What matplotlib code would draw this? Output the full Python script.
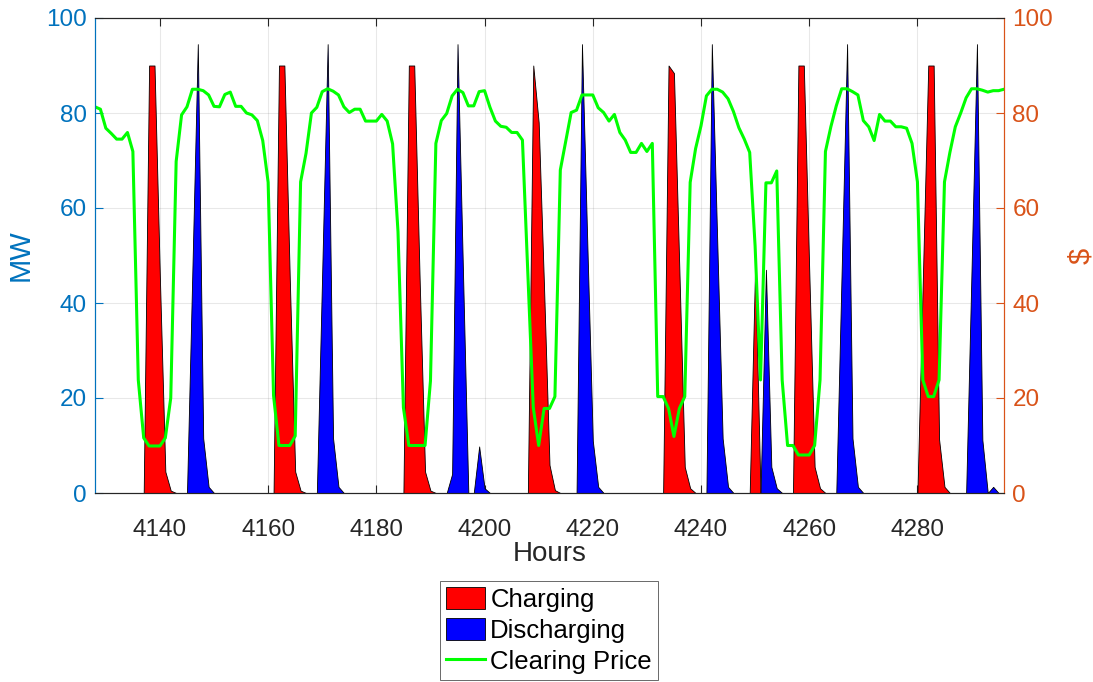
import numpy as np
import matplotlib
matplotlib.use("Agg")
import matplotlib.pyplot as plt
from matplotlib.patches import Patch
from matplotlib.lines import Line2D

plt.rcParams['font.family'] = ['Liberation Sans', 'DejaVu Sans']

# ---- data -----------------------------------------------------------
hour_start = 4128
hour_end = 4296

clearing_price = [
    81.3, 80.8, 76.8, 75.7, 74.5, 74.5, 75.9, 71.9, 23.8, 11.6,   # 4128-4137
    9.9, 9.9, 9.9, 11.6, 20.0, 69.8, 79.6, 81.3, 85.0, 85.0,      # 4138-4147
    84.7, 83.8, 81.4, 81.3, 83.9, 84.4, 81.4, 81.4, 80.0, 79.6,   # 4148-4157
    78.4, 74.2, 65.4, 20.5, 10.0, 10.0, 10.0, 12.0, 65.5, 71.5,   # 4158-4167
    80.0, 81.2, 84.5, 85.1, 84.6, 83.8, 81.3, 80.1, 80.8, 80.8,   # 4168-4177
    78.3, 78.3, 78.3, 79.7, 78.3, 73.5, 55.0, 18.0, 10.0, 10.0,   # 4178-4187
    10.0, 10.0, 23.6, 73.6, 78.4, 79.9, 83.6, 85.0, 84.3, 81.5,   # 4188-4197
    81.5, 84.5, 84.7, 81.2, 78.3, 77.2, 77.0, 75.9, 75.9, 74.3,   # 4198-4207
    46.0, 18.0, 10.0, 17.8, 17.8, 20.3, 68.0, 74.0, 80.1, 80.6,   # 4208-4217
    83.8, 83.8, 83.8, 81.1, 80.1, 78.3, 79.7, 75.9, 74.3, 71.7,   # 4218-4227
    71.7, 73.6, 71.9, 73.6, 20.3, 20.3, 17.8, 11.9, 17.8, 20.3,   # 4228-4237
    65.4, 72.5, 77.3, 83.6, 85.0, 85.0, 84.4, 83.0, 80.3, 76.9,   # 4238-4247
    74.5, 71.7, 52.0, 23.8, 65.3, 65.3, 67.8, 23.8, 10.0, 10.0,   # 4248-4257
    8.0, 8.0, 8.0, 10.0, 23.8, 71.9, 77.1, 81.5, 85.1, 85.1,      # 4258-4267
    84.5, 83.8, 78.4, 77.1, 74.2, 79.7, 78.3, 78.3, 77.1, 77.1,   # 4268-4277
    76.8, 73.6, 65.5, 23.8, 20.3, 20.3, 23.8, 65.5, 71.7, 77.1,   # 4278-4287
    80.0, 83.2, 85.1, 85.1, 84.8, 84.4, 84.7, 84.7, 85.0,         # 4288-4296
]

# non-zero hours of the storage schedule (MW); every other hour is 0
charging_nonzero = {
    4138: 90, 4139: 90, 4140: 45, 4141: 4.5, 4142: 0.5,
    4162: 90, 4163: 90, 4164: 45, 4165: 4.5, 4166: 0.5,
    4186: 90, 4187: 90, 4188: 45, 4189: 4.5, 4190: 0.5,
    4209: 90, 4210: 78, 4211: 43, 4212: 5.9, 4213: 0.6,
    4234: 90, 4235: 88.4, 4236: 47, 4237: 5.5, 4238: 1.0,
    4250: 47.6,
    4258: 90, 4259: 90, 4260: 47, 4261: 5.5, 4262: 1.0,
    4281: 45, 4282: 90, 4283: 90, 4284: 11.3, 4285: 1.3,
}
discharging_nonzero = {
    4146: 47, 4147: 94.5, 4148: 11.5, 4149: 1.3,
    4170: 47, 4171: 94.5, 4172: 11.5, 4173: 1.3,
    4194: 4.0, 4195: 94.5, 4196: 47,
    4199: 9.8, 4200: 1.0,
    4218: 94.5, 4219: 52, 4220: 11, 4221: 1.3,
    4242: 94.5, 4243: 53, 4244: 11.5, 4245: 1.3,
    4252: 47, 4253: 5.5, 4254: 1.0,
    4266: 47, 4267: 94.5, 4268: 11.5, 4269: 1.3,
    4290: 47, 4291: 94.5, 4292: 11.2, 4294: 1.3,
}

x_ticks = [4140, 4160, 4180, 4200, 4220, 4240, 4260, 4280]
y_ticks = [0, 20, 40, 60, 80, 100]
legend_labels = ["Charging", "Discharging", "Clearing Price"]

# ---- build series ---------------------------------------------------
hours = np.arange(hour_start, hour_end + 1)
charging = np.array([charging_nonzero.get(int(h), 0.0) for h in hours])
discharging = np.array([discharging_nonzero.get(int(h), 0.0) for h in hours])
price = np.array(clearing_price)

# ---- styling --------------------------------------------------------
left_color = (0.0, 0.447, 0.741)
right_color = (0.85, 0.325, 0.098)
axis_gray = (0.15, 0.15, 0.15)

fig = plt.figure(figsize=(10.93, 6.82), dpi=100)
ax = fig.add_axes([95 / 1093, 1 - 493 / 682, (1004 - 95) / 1093, (493 - 18) / 682])
ax2 = ax.twinx()

ax.fill_between(hours, 0, charging, facecolor=(1, 0, 0), edgecolor='black', linewidth=0.6)
ax.fill_between(hours, 0, discharging, facecolor=(0, 0, 1), edgecolor='black', linewidth=0.6)
ax2.plot(hours, price, color=(0, 1, 0), linewidth=2.2)

ax.set_xlim(hour_start, hour_end)
ax.set_ylim(0, 100)
ax2.set_ylim(0, 100)
ax.set_xticks(x_ticks)
ax.set_yticks(y_ticks)
ax2.set_yticks(y_ticks)

tick_fs = 17.5
ax.tick_params(axis='x', direction='in', length=6, width=0.8, colors=axis_gray,
               labelsize=tick_fs, top=True, pad=19)
ax.tick_params(axis='y', direction='in', length=6, width=0.8, colors=left_color,
               labelsize=tick_fs, right=False, pad=6)
ax2.tick_params(axis='y', direction='in', length=6, width=0.8, colors=right_color,
                labelsize=tick_fs, pad=6)

ax.grid(True, color=(0.15, 0.15, 0.15), alpha=0.1, linewidth=0.8)
ax.set_axisbelow(True)

for side in ['top', 'bottom']:
    ax.spines[side].set_color(axis_gray)
    ax2.spines[side].set_color(axis_gray)
ax2.spines['left'].set_color(left_color)
ax2.spines['right'].set_color(right_color)
ax.spines['left'].set_color(left_color)
ax.spines['right'].set_color(right_color)

ax.set_xlabel("Hours", fontsize=20, color=axis_gray, labelpad=0)
ax.set_ylabel("MW", fontsize=21, color=left_color, labelpad=8)
ax2.set_ylabel("$", fontsize=21, color=right_color, labelpad=10)

handles = [
    Patch(facecolor=(1, 0, 0), edgecolor='black', linewidth=0.6),
    Patch(facecolor=(0, 0, 1), edgecolor='black', linewidth=0.6),
    Line2D([0], [0], color=(0, 1, 0), linewidth=2.2),
]
leg = fig.legend(handles, legend_labels, loc='upper center',
                 bbox_to_anchor=(549 / 1093, 1 - 581 / 682), fontsize=18.5,
                 frameon=True, fancybox=False, edgecolor=axis_gray,
                 handlelength=1.5, handleheight=0.95, handletextpad=0.22,
                 labelspacing=0.25, borderpad=0.22, borderaxespad=0)
leg.get_frame().set_linewidth(0.6)

fig.savefig("out.png", dpi=100)
